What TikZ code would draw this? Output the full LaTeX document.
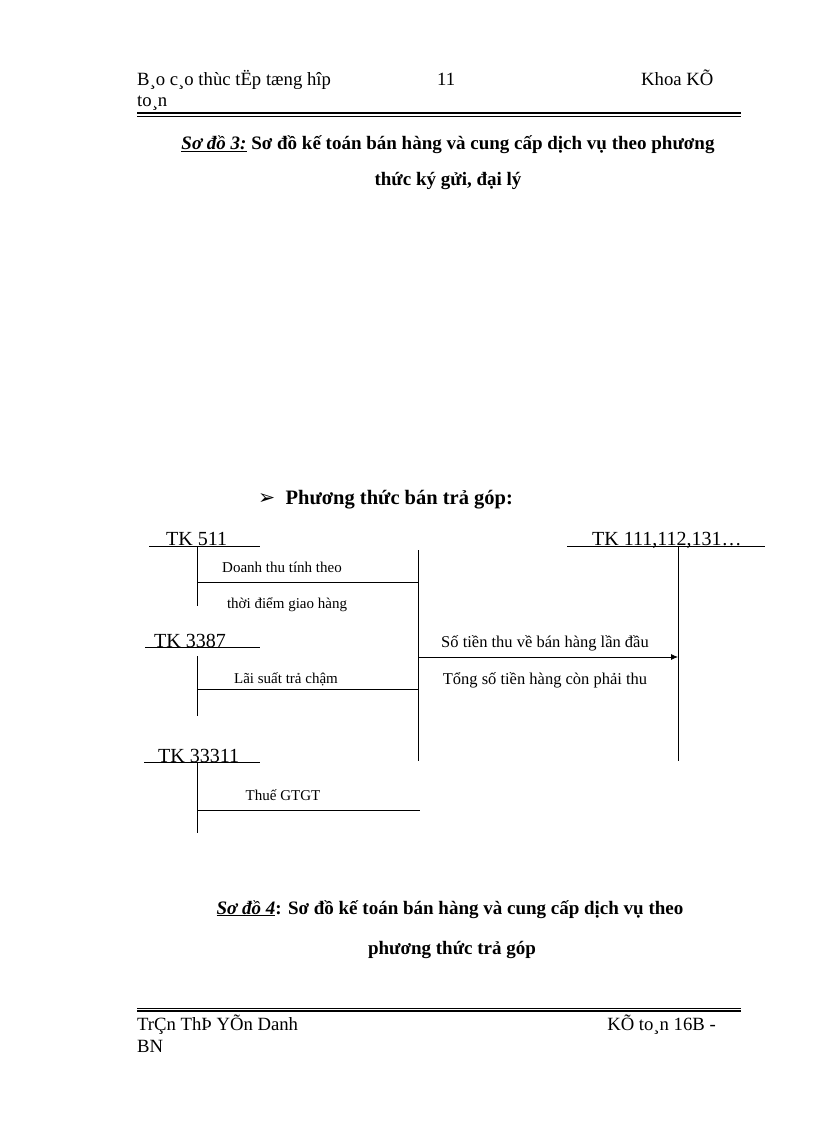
\documentclass[tikz,border=0pt]{standalone}
\usepackage{fontspec}
\setmainfont{Liberation Serif}
\newfontfamily\dingfont{DejaVu Sans}
\usetikzlibrary{arrows.meta}
\tikzset{
  page/.style={font=\fontsize{18.7}{20}\selectfont, inner sep=0pt, anchor=base west},
  ttl/.style={font=\bfseries\fontsize{19}{21}\selectfont, inner sep=0pt, anchor=base},
  tk/.style={font=\fontsize{20}{22}\selectfont, inner sep=0pt, anchor=base west},
  lbl/.style={font=\fontsize{15}{17}\selectfont, inner sep=0pt, anchor=base},
  ln/.style={draw=black, line width=0.8pt},
}
\begin{document}
\begin{tikzpicture}[x=1pt,y=-1pt]
    \useasboundingbox (0,0) rectangle (816,1123);
    % header
    \node (h1) [page] at (137,86) {B¸o c¸o thùc tËp tæng hîp};
    \node (h2) [page] at (137,107) {to¸n};
    \node (hn) [page] at (437,86) {11};
    \node (hk) [page] at (641,86) {Khoa KÕ};
    \draw[line width=1.6pt] (137,113) -- (741,113);
    \draw[line width=0.4pt] (137,116) -- (741,116);
    \node (t3a) [ttl] at (448,150) {\underline{\textit{Sơ đồ 3:}} Sơ đồ kế toán bán hàng và cung cấp dịch vụ theo phương};
    \node (t3b) [ttl] at (448,186) {thức ký gửi, đại lý};
    \node (bul) [ttl, anchor=base west, font=\bfseries\fontsize{20.5}{22}\selectfont] at (258,504) {{\dingfont\mdseries ➢}\ \ Phương thức bán trả góp:};
    % accounts
    \node (tk511) [tk] at (166,545) {TK 511};
    \node (tk3387) [tk] at (154,647) {TK 3387};
    \node (tk33311) [tk] at (158,762) {TK 33311};
    \node (tk111) [tk] at (592,545) {TK 111,112,131…};
    \begin{scope}[ln]
      \draw (149,546) -- (260,546);  \draw (197,546) -- (197,606);
      \draw (145,647) -- (260,647);  \draw (197,656) -- (197,716);
      \draw (144,762) -- (260,762);  \draw (197,762) -- (197,833);
      \draw (567,546) -- (765,546);  \draw (678,546) -- (678,761);
      \coordinate (m1) at (418,550);
      \coordinate (m2) at (418,761);
      \draw (m1) -- (m2);
      \draw (197,582) -- (418,582);
      \draw (197,689) -- (418,689);
      \draw (197,810) -- (420,810);
      \draw[-{Latex[length=7pt,width=6pt]}] (418,657) -- (678,657);
    \end{scope}
    \node (d1) [lbl] at (282,572) {Doanh thu tính theo};
    \node (d2) [lbl] at (287,608) {thời điểm giao hàng};
    \node (d3) [lbl] at (286,683) {Lãi suất trả chậm};
    \node (d4) [lbl] at (283,800) {Thuế GTGT};
    \node (d5) [lbl, font=\fontsize{16.5}{18}\selectfont] at (545,647) {Số tiền thu về bán hàng lần đầu};
    \node (d6) [lbl, font=\fontsize{16.5}{18}\selectfont] at (545,684) {Tổng số tiền hàng còn phải thu};
    % caption
    \node (t4a) [ttl] at (450,914) {\underline{\textit{Sơ đồ 4}}: Sơ đồ kế toán bán hàng và cung cấp dịch vụ theo};
    \node (t4b) [ttl] at (452,954) {phương thức trả góp};
    % footer
    \draw[line width=0.4pt] (137,1008) -- (741,1008);
    \draw[line width=1.6pt] (137,1011) -- (741,1011);
    \node (f1) [page] at (137,1030) {TrÇn ThÞ YÕn Danh};
    \node (f2) [page] at (137,1052) {BN};
    \node (f3) [page, anchor=base east] at (716,1030) {KÕ to¸n 16B -};
\end{tikzpicture}
\end{document}
